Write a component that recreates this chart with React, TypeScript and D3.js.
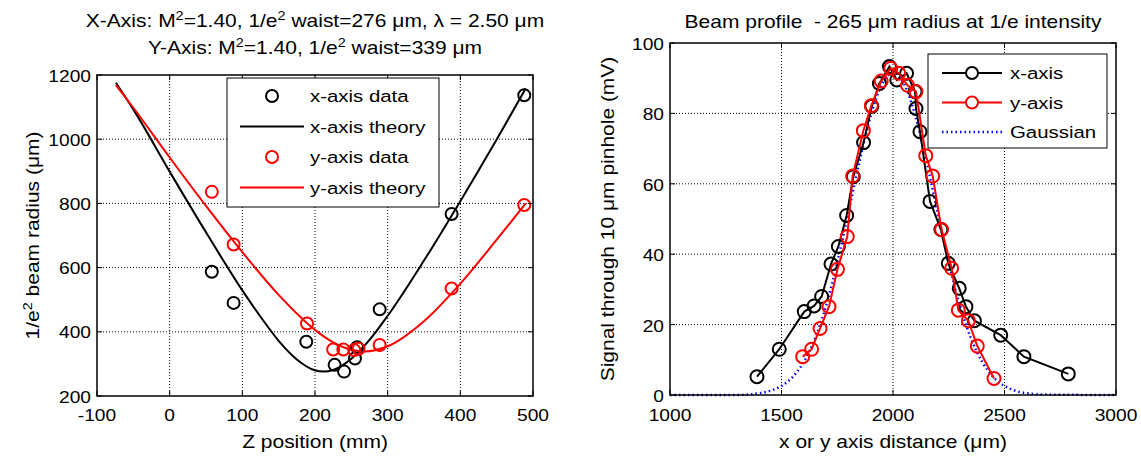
import React from "react";
import * as d3 from "d3";

// ---------- Left chart data ----------
const xDataZ = [58, 88, 188, 227, 240, 255, 258, 289, 388, 488];
const xDataW = [587, 490, 369, 297, 276, 317, 352, 470, 767, 1137];
const yDataZ = [58, 88, 189, 225, 239, 254, 260, 289, 388, 488];
const yDataW = [836, 672, 426, 345, 345, 343, 347, 359, 535, 795];
const xTheoryZ = [-74, -50, 0, 50, 100, 125, 150, 175, 200, 212, 225, 250, 275, 300, 350, 400, 450, 490];
const xTheoryW = [1176, 1093, 899, 710, 529, 447, 372, 314, 280, 276, 281, 316, 375, 450, 622, 807, 999, 1158];
const yTheoryZ = [-74, -50, 0, 50, 100, 150, 200, 225, 250, 268, 300, 350, 400, 450, 490];
const yTheoryW = [1169, 1098, 943, 792, 648, 515, 406, 367, 344, 339, 355, 433, 550, 687, 800];
const leftXTicks = [-100, 0, 100, 200, 300, 400, 500];
const leftYTicks = [200, 400, 600, 800, 1000, 1200];
const leftLegend = ["x-axis data", "x-axis theory", "y-axis data", "y-axis theory"];

// ---------- Right chart data ----------
const profXPos = [1390, 1490, 1602, 1646, 1680, 1722, 1755, 1792, 1822, 1868, 1905, 1939, 1984, 2017, 2061, 2099, 2103, 2121, 2166, 2215, 2248, 2297, 2327, 2365, 2483, 2587, 2786];
const profXSig = [5.2, 13, 23.7, 25.3, 28, 37.2, 42.2, 51, 62, 71.7, 82, 88.5, 93.3, 89.5, 91.4, 86.2, 81.4, 74.8, 55, 47, 37.4, 30.3, 25.1, 21.1, 17, 10.9, 6];
const profYPos = [1595, 1635, 1673, 1713, 1751, 1795, 1819, 1867, 1903, 1947, 1990, 2026, 2065, 2103, 2147, 2178, 2218, 2263, 2293, 2338, 2378, 2453];
const profYSig = [10.9, 13, 18.9, 25.1, 35.7, 45, 62.2, 75.1, 82.2, 89.2, 92.8, 91.4, 88, 86.2, 68, 62.2, 47, 36, 24.1, 21.1, 13.9, 4.7];
const gaussPos = [1000, 1300, 1400, 1450, 1500, 1550, 1600, 1650, 1700, 1750, 1800, 1850, 1900, 1950, 2000, 2050, 2100, 2150, 2200, 2250, 2300, 2350, 2400, 2450, 2500, 2550, 2600, 2700, 3000];
const gaussSig = [0, 0, 0.5, 1.2, 2.6, 5.1, 9.4, 16, 25.4, 37.6, 51.8, 66.4, 79.3, 88.3, 91.5, 88.3, 79.3, 66.4, 51.8, 37.6, 25.4, 16, 9.4, 5.1, 2.6, 1.2, 0.5, 0.1, 0];
const rightXTicks = [1000, 1500, 2000, 2500, 3000];
const rightYTicks = [0, 20, 40, 60, 80, 100];
const rightLegend = ["x-axis", "y-axis", "Gaussian"];

const FONT = "'Liberation Sans', Arial, Helvetica, sans-serif";
const TICK_FS = 17;
const TICK_SX = 1.13;
const LAB_FS = 17.5;
const LAB_SX = 1.2;
const LEG_FS = 17;
const LEG_SX = 1.2;

const L = { x0: 97, x1: 533, y0: 75, y1: 396 };
const R = { x0: 670, x1: 1116, y0: 43, y1: 395 };

function Txt({ x, y, size, sx, anchor = "start", rot = 0, children }: any) {
  return (
    <text
      transform={`translate(${x},${y}) rotate(${rot}) scale(${sx},1)`}
      x={0}
      y={0}
      fontFamily={FONT}
      fontSize={size}
      textAnchor={anchor}
      fill="#000"
    >
      {children}
    </text>
  );
}

function Grid({ xs, ys, box, xScale, yScale }: any) {
  return (
    <g stroke="#000" strokeWidth={1} strokeDasharray="1,2">
      {xs.map((t: number) => (
        <line key={"gx" + t} x1={xScale(t)} x2={xScale(t)} y1={box.y0} y2={box.y1} />
      ))}
      {ys.map((t: number) => (
        <line key={"gy" + t} y1={yScale(t)} y2={yScale(t)} x1={box.x0} x2={box.x1} />
      ))}
    </g>
  );
}

function Axes({ xs, ys, box, xScale, yScale, xdy, ydy }: any) {
  const tl = 5;
  return (
    <g>
      <rect x={box.x0} y={box.y0} width={box.x1 - box.x0} height={box.y1 - box.y0} fill="none" stroke="#000" strokeWidth={1.5} />
      <g stroke="#000" strokeWidth={1}>
        {xs.map((t: number) => (
          <g key={"tx" + t}>
            <line x1={xScale(t)} x2={xScale(t)} y1={box.y1} y2={box.y1 - tl} />
            <line x1={xScale(t)} x2={xScale(t)} y1={box.y0} y2={box.y0 + tl} />
          </g>
        ))}
        {ys.map((t: number) => (
          <g key={"ty" + t}>
            <line y1={yScale(t)} y2={yScale(t)} x1={box.x0} x2={box.x0 + tl} />
            <line y1={yScale(t)} y2={yScale(t)} x1={box.x1} x2={box.x1 - tl} />
          </g>
        ))}
      </g>
      {xs.map((t: number) => (
        <Txt key={"lx" + t} x={xScale(t)} y={box.y1 + xdy} size={TICK_FS} sx={TICK_SX} anchor="middle">{t}</Txt>
      ))}
      {ys.map((t: number) => (
        <Txt key={"ly" + t} x={box.x0 - 6} y={yScale(t) + ydy} size={TICK_FS} sx={TICK_SX} anchor="end">{t}</Txt>
      ))}
    </g>
  );
}

export default function App() {
  // Left scales
  const lx = d3.scaleLinear().domain([-100, 500]).range([L.x0, L.x1]);
  const ly = d3.scaleLinear().domain([200, 1200]).range([L.y1, L.y0]);
  const lLine = d3.line<[number, number]>().x((d) => lx(d[0])).y((d) => ly(d[1])).curve(d3.curveMonotoneX);
  const xTheory = xTheoryZ.map((z, i) => [z, xTheoryW[i]] as [number, number]);
  const yTheory = yTheoryZ.map((z, i) => [z, yTheoryW[i]] as [number, number]);

  // Right scales
  const rx = d3.scaleLinear().domain([1000, 3000]).range([R.x0, R.x1]);
  const ry = d3.scaleLinear().domain([0, 100]).range([R.y1, R.y0]);
  const rLine = d3.line<[number, number]>().x((d) => rx(d[0])).y((d) => ry(d[1]));
  const gLine = d3.line<[number, number]>().x((d) => rx(d[0])).y((d) => ry(d[1])).curve(d3.curveMonotoneX);
  const profX = profXPos.map((p, i) => [p, profXSig[i]] as [number, number]);
  const profY = profYPos.map((p, i) => [p, profYSig[i]] as [number, number]);
  const gauss = gaussPos.map((p, i) => [p, gaussSig[i]] as [number, number]);

  const sup = (s: string) => (
    <tspan fontSize={12} dy={-7}>{s}</tspan>
  );
  const unsup = (s: string) => <tspan dy={7}>{s}</tspan>;

  const legL = { x: 227, y: 78, w: 212, h: 129 };
  const legR = { x: 928, y: 54, w: 179, h: 94 };

  return (
    <svg width={1141} height={459} style={{ display: "block", position: "absolute", left: 0, top: 0, background: "#fff" }}>
      <rect x={0} y={0} width={1141} height={459} fill="#fff" />
      {/* ---------------- Left chart ---------------- */}
      <Grid xs={leftXTicks.slice(1, -1)} ys={leftYTicks.slice(1, -1)} box={L} xScale={lx} yScale={ly} />
      <g>
        <path d={lLine(xTheory) || ""} fill="none" stroke="#000" strokeWidth={2} />
        <path d={lLine(yTheory) || ""} fill="none" stroke="#ff0000" strokeWidth={2} />
        {xDataZ.map((z, i) => (
          <circle key={"xd" + i} cx={lx(z)} cy={ly(xDataW[i])} r={6} fill="none" stroke="#000" strokeWidth={2} />
        ))}
        {yDataZ.map((z, i) => (
          <circle key={"yd" + i} cx={lx(z)} cy={ly(yDataW[i])} r={6} fill="none" stroke="#ff0000" strokeWidth={2} />
        ))}
      </g>
      <Axes xs={leftXTicks} ys={leftYTicks} box={L} xScale={lx} yScale={ly} xdy={25} ydy={6.5} />
      {/* left legend */}
      <g>
        <rect x={legL.x} y={legL.y} width={legL.w} height={legL.h} fill="#fff" stroke="#000" strokeWidth={1} />
        {leftLegend.map((lab, i) => {
          const cy = legL.y + 18 + i * 30.5;
          const isRed = i >= 2;
          const col = isRed ? "#ff0000" : "#000";
          const isData = i % 2 === 0;
          return (
            <g key={lab}>
              {isData ? (
                <circle cx={272} cy={cy} r={6} fill="none" stroke={col} strokeWidth={2} />
              ) : (
                <line x1={240} x2={304} y1={cy} y2={cy} stroke={col} strokeWidth={2} />
              )}
              <Txt x={310} y={cy + 6} size={LEG_FS} sx={LEG_SX}>{lab}</Txt>
            </g>
          );
        })}
      </g>
      {/* left titles */}
      <Txt x={315} y={27} size={LAB_FS} sx={LAB_SX} anchor="middle">
        X-Axis: M{sup("2")}{unsup("=1.40, 1/e")}{sup("2")}{unsup(" waist=276 μm, λ = 2.50 μm")}
      </Txt>
      <Txt x={315} y={54} size={LAB_FS} sx={LAB_SX} anchor="middle">
        Y-Axis: M{sup("2")}{unsup("=1.40, 1/e")}{sup("2")}{unsup(" waist=339 μm")}
      </Txt>
      <Txt x={315} y={448} size={LAB_FS} sx={LAB_SX} anchor="middle">Z position (mm)</Txt>
      <Txt x={39} y={(L.y0 + L.y1) / 2} size={LAB_FS} sx={LAB_SX} anchor="middle" rot={-90}>
        1/e{sup("2")}{unsup(" beam radius (μm)")}
      </Txt>

      {/* ---------------- Right chart ---------------- */}
      <Grid xs={rightXTicks.slice(1, -1)} ys={rightYTicks.slice(1, -1)} box={R} xScale={rx} yScale={ry} />
      <g>
        <path d={gLine(gauss) || ""} fill="none" stroke="#0000ff" strokeWidth={2.5} strokeDasharray="1.5,3" />
        <path d={rLine(profX) || ""} fill="none" stroke="#000" strokeWidth={2} />
        {profX.map((d, i) => (
          <circle key={"px" + i} cx={rx(d[0])} cy={ry(d[1])} r={6.5} fill="none" stroke="#000" strokeWidth={2} />
        ))}
        <path d={rLine(profY) || ""} fill="none" stroke="#ff0000" strokeWidth={2} />
        {profY.map((d, i) => (
          <circle key={"py" + i} cx={rx(d[0])} cy={ry(d[1])} r={6.5} fill="none" stroke="#ff0000" strokeWidth={2} />
        ))}
      </g>
      <Axes xs={rightXTicks} ys={rightYTicks} box={R} xScale={rx} yScale={ry} xdy={26} ydy={7} />
      <g>
        <rect x={legR.x} y={legR.y} width={legR.w} height={legR.h} fill="#fff" stroke="#000" strokeWidth={1} />
        {rightLegend.map((lab, i) => {
          const cy = legR.y + 19 + i * 29.5;
          const col = i === 0 ? "#000" : i === 1 ? "#ff0000" : "#0000ff";
          return (
            <g key={lab}>
              {i < 2 ? (
                <>
                  <line x1={942} x2={1002} y1={cy} y2={cy} stroke={col} strokeWidth={2} />
                  <circle cx={972} cy={cy} r={6} fill="#fff" stroke={col} strokeWidth={2} />
                </>
              ) : (
                <line x1={942} x2={1002} y1={cy} y2={cy} stroke={col} strokeWidth={2.5} strokeDasharray="1.5,3" />
              )}
              <Txt x={1010} y={cy + 6} size={LEG_FS} sx={LEG_SX}>{lab}</Txt>
            </g>
          );
        })}
      </g>
      <Txt x={893} y={28} size={LAB_FS} sx={LAB_SX} anchor="middle">{"Beam profile \u00a0- 265 μm radius at 1/e intensity"}</Txt>
      <Txt x={893} y={448} size={LAB_FS} sx={LAB_SX} anchor="middle">x or y axis distance (μm)</Txt>
      <Txt x={614} y={(R.y0 + R.y1) / 2} size={LAB_FS} sx={LAB_SX} anchor="middle" rot={-90}>Signal through 10 μm pinhole (mV)</Txt>
    </svg>
  );
}
